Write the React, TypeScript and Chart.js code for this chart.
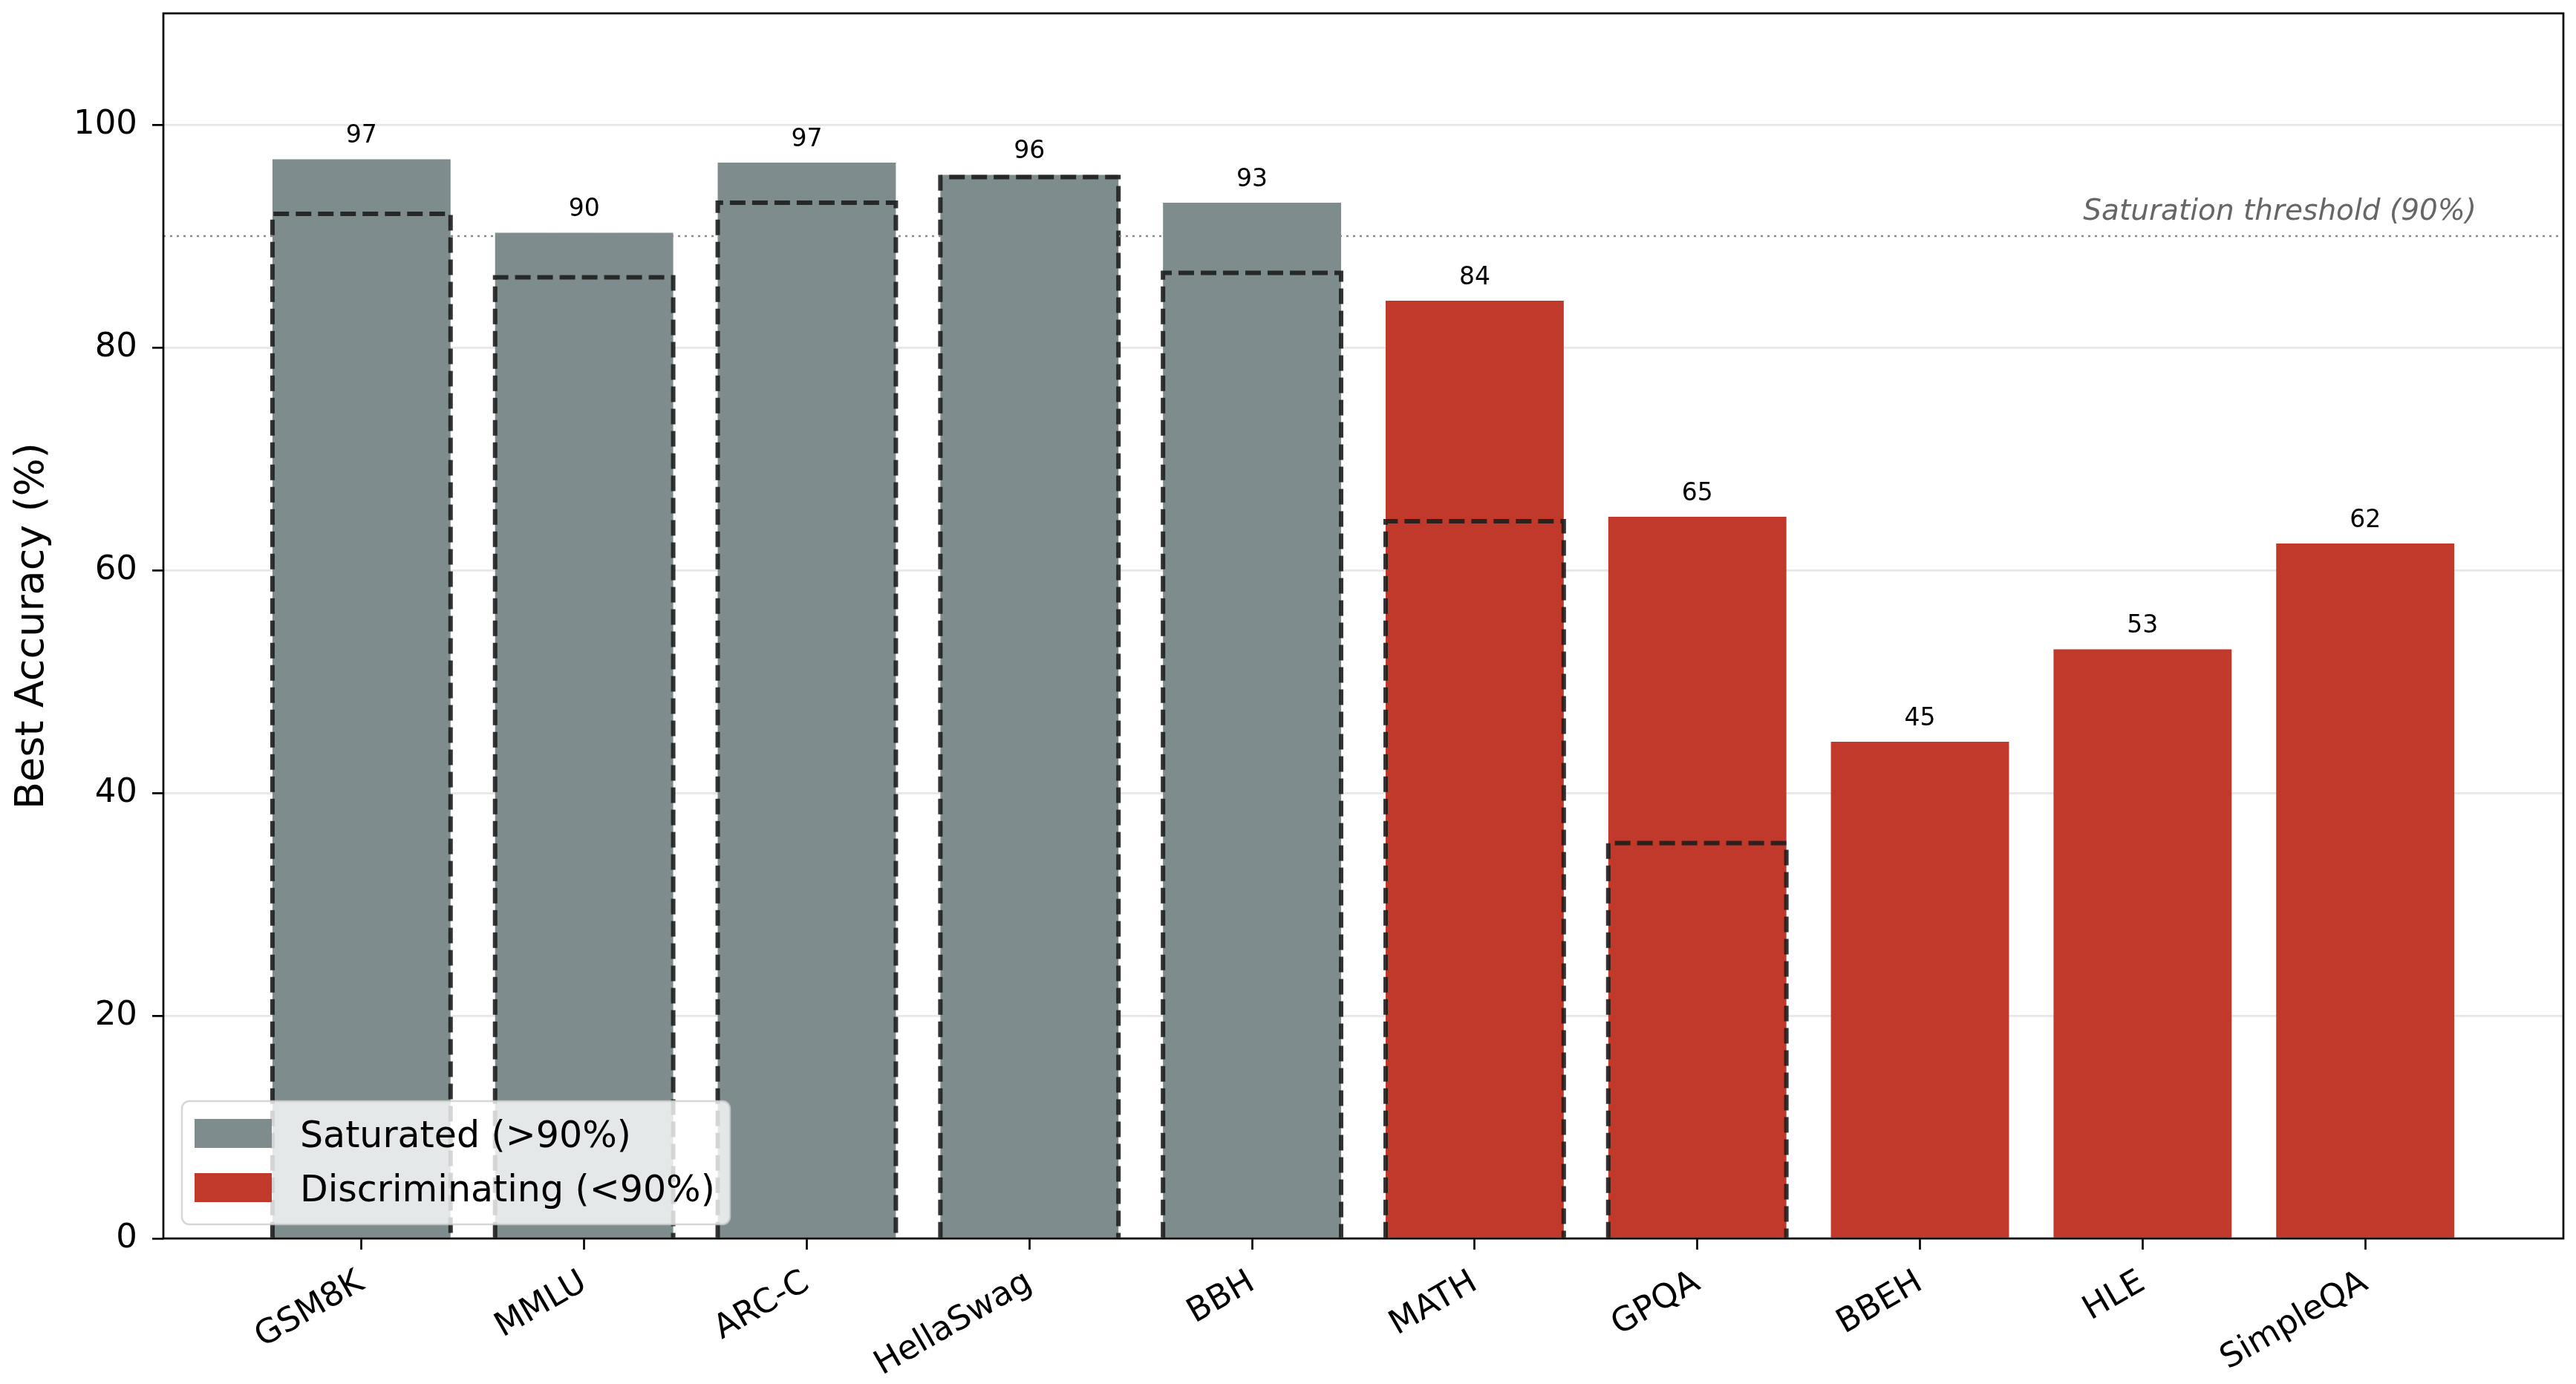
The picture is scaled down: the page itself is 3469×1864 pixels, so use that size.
import { Chart, registerables } from 'chart.js';
import { useEffect, useRef } from 'react';

Chart.register(...registerables);

const benchmarks = ['GSM8K', 'MMLU', 'ARC-C', 'HellaSwag', 'BBH', 'MATH', 'GPQA', 'BBEH', 'HLE', 'SimpleQA'];
const bestAccuracy = [96.9, 90.3, 96.6, 95.5, 93.0, 84.2, 64.8, 44.6, 52.9, 62.4];
// dashed outlines (earlier best score)
const earlierAccuracy: (number | null)[] = [92.0, 86.3, 93.0, 95.3, 86.7, 64.4, 35.5, null, null, null];
const yTicks = [0, 20, 40, 60, 80, 100];
const threshold = 90;
const thresholdLabel = 'Saturation threshold (90%)';
const legendLabels = ['Saturated (>90%)', 'Discriminating (<90%)'];

const SATURATED = '#7f8c8d';
const DISCRIMINATING = '#c0392b';
const FONT = '"DejaVu Sans", sans-serif';

const barColors = bestAccuracy.map((v) => (v > threshold ? SATURATED : DISCRIMINATING));

const decorPlugin = {
    id: 'decor',
    afterDatasetsDraw(chart: any) {
        const ctx = chart.ctx as CanvasRenderingContext2D;
        const meta = chart.getDatasetMeta(1);
        ctx.save();
        ctx.setLineDash([21, 9]);
        ctx.lineWidth = 6;
        ctx.strokeStyle = 'rgba(30,30,30,0.9)';
        meta.data.forEach((bar: any, i: number) => {
            if (earlierAccuracy[i] == null) return;
            const { x, y, base, width } = bar.getProps(['x', 'y', 'base', 'width'], true);
            ctx.beginPath();
            ctx.moveTo(x - width / 2, base);
            ctx.lineTo(x - width / 2, y);
            ctx.lineTo(x + width / 2, y);
            ctx.lineTo(x + width / 2, base);
            ctx.stroke();
        });
        ctx.restore();
    },
    afterDraw(chart: any) {
        const ctx = chart.ctx as CanvasRenderingContext2D;
        const area = chart.chartArea;
        const xScale = chart.scales.x;
        const yScale = chart.scales.y;
        ctx.save();

        // threshold line
        const ty = yScale.getPixelForValue(threshold);
        ctx.setLineDash([3, 6]);
        ctx.lineWidth = 2.5;
        ctx.strokeStyle = '#8a8a8a';
        ctx.beginPath();
        ctx.moveTo(area.left, ty);
        ctx.lineTo(area.right, ty);
        ctx.stroke();
        ctx.setLineDash([]);

        ctx.font = `italic 39px ${FONT}`;
        ctx.fillStyle = '#666666';
        ctx.textAlign = 'right';
        ctx.textBaseline = 'alphabetic';
        ctx.fillText(thresholdLabel, xScale.getPixelForValue(9.5), yScale.getPixelForValue(threshold + 1.5));

        // value labels
        ctx.font = `33px ${FONT}`;
        ctx.fillStyle = '#000';
        ctx.textAlign = 'center';
        const meta = chart.getDatasetMeta(0);
        meta.data.forEach((bar: any, i: number) => {
            const { x } = bar.getProps(['x'], true);
            ctx.fillText(bestAccuracy[i].toFixed(0), x, yScale.getPixelForValue(bestAccuracy[i] + 1.5));
        });

        // frame
        ctx.lineWidth = 2.7;
        ctx.strokeStyle = '#000';
        ctx.strokeRect(area.left, area.top, area.right - area.left, area.bottom - area.top);

        // legend
        const lx = area.left + 25;
        const ly = area.bottom - 185;
        ctx.beginPath();
        ctx.roundRect(lx, ly, 738, 166, 10);
        ctx.fillStyle = 'rgba(255,255,255,0.8)';
        ctx.fill();
        ctx.lineWidth = 2.5;
        ctx.strokeStyle = 'rgba(204,204,204,0.8)';
        ctx.stroke();
        const colors = [SATURATED, DISCRIMINATING];
        ctx.font = `49px ${FONT}`;
        ctx.textAlign = 'left';
        legendLabels.forEach((label, i) => {
            ctx.fillStyle = colors[i];
            ctx.fillRect(lx + 17, ly + 24 + i * 73, 104, 39);
            ctx.fillStyle = '#000';
            ctx.fillText(label, lx + 159, ly + 62 + i * 73);
        });
        ctx.restore();
    },
};

const App = () => {
    const chartRef = useRef<HTMLCanvasElement | null>(null);
    const chartInstance = useRef<Chart | null>(null);

    useEffect(() => {
        document.body.style.margin = '0';
        if (!chartRef.current) return;
        const ctx = chartRef.current.getContext('2d');
        if (!ctx) return;
        if (chartInstance.current) chartInstance.current.destroy();

        chartInstance.current = new Chart(ctx, {
            type: 'bar',
            data: {
                datasets: [
                    {
                        label: 'Best accuracy',
                        data: bestAccuracy.map((v, i) => ({ x: i, y: v })),
                        backgroundColor: barColors,
                        borderWidth: 0,
                        grouped: false,
                        barPercentage: 0.8,
                        categoryPercentage: 1,
                        order: 2,
                    },
                    {
                        label: 'Earlier',
                        data: earlierAccuracy.map((v, i) => ({ x: i, y: v })),
                        backgroundColor: 'rgba(0,0,0,0)',
                        borderWidth: 0,
                        grouped: false,
                        barPercentage: 0.8,
                        categoryPercentage: 1,
                        order: 1,
                    },
                ] as any,
            },
            options: {
                animation: false,
                responsive: true,
                maintainAspectRatio: false,
                layout: { padding: { left: 0, top: 18, right: 17, bottom: 0 } },
                plugins: {
                    legend: { display: false },
                    tooltip: { enabled: false },
                },
                scales: {
                    x: {
                        type: 'linear',
                        min: -0.89,
                        max: 9.89,
                        offset: false,
                        afterBuildTicks: (scale: any) => {
                            scale.ticks = benchmarks.map((_, i) => ({ value: i }));
                        },
                        afterFit: (scale: any) => {
                            scale.height = 196;
                            scale.paddingLeft = 0;
                            scale.paddingRight = 0;
                        },
                        border: { display: false },
                        grid: {
                            offset: false,
                            drawOnChartArea: false,
                            tickColor: '#000',
                            tickLength: 15,
                            tickWidth: 2.7,
                        },
                        ticks: {
                            autoSkip: false,
                            maxRotation: 30,
                            minRotation: 30,
                            padding: 18,
                            color: '#000',
                            font: { family: FONT, size: 45 },
                            callback: (value: any) => benchmarks[Number(value)] ?? '',
                        },
                    },
                    y: {
                        min: 0,
                        max: 110,
                        z: 1,
                        afterBuildTicks: (scale: any) => {
                            scale.ticks = yTicks.map((v) => ({ value: v }));
                        },
                        afterFit: (scale: any) => {
                            scale.width = 220;
                            scale.paddingTop = 0;
                            scale.paddingBottom = 0;
                        },
                        border: { display: false },
                        grid: {
                            color: 'rgba(176,176,176,0.3)',
                            lineWidth: 2.7,
                            tickColor: '#000',
                            tickLength: 15,
                            tickWidth: 2.7,
                        },
                        ticks: {
                            padding: 20,
                            color: '#000',
                            font: { family: FONT, size: 45 },
                        },
                        title: {
                            display: true,
                            text: 'Best Accuracy (%)',
                            color: '#000',
                            font: { family: FONT, size: 54 },
                            padding: { top: 12, bottom: 0 },
                        },
                    },
                },
            },
            plugins: [decorPlugin],
        });

        return () => {
            if (chartInstance.current) {
                chartInstance.current.destroy();
                chartInstance.current = null;
            }
        };
    }, []);

    return (
        <div style={{ position: 'relative', width: '3469px', height: '1864px' }}>
            <canvas ref={chartRef} />
        </div>
    );
};

export default App;
